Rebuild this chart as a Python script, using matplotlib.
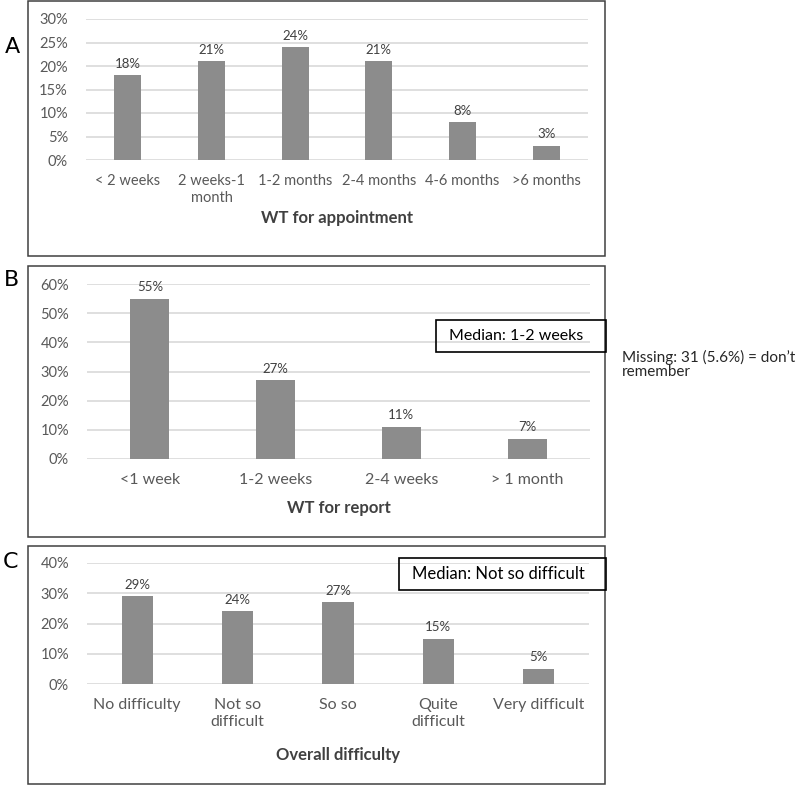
import matplotlib
matplotlib.use('Agg')
import matplotlib.pyplot as plt
from matplotlib.patches import Rectangle

plt.rcParams['font.family'] = ['Lato', 'DejaVu Sans']

# data
a_cats = ['< 2 weeks', '2 weeks-1\nmonth', '1-2 months', '2-4 months', '4-6 months', '>6 months']
a_vals = [18, 21, 24, 21, 8, 3]
b_cats = ['<1 week', '1-2 weeks', '2-4 weeks', '> 1 month']
b_vals = [55, 27, 11, 7]
c_cats = ['No difficulty', 'Not so\ndifficult', 'So so', 'Quite\ndifficult', 'Very difficult']
c_vals = [29, 24, 27, 15, 5]

W, H = 798, 787
fig = plt.figure(figsize=(W / 100, H / 100), dpi=100)

def fx(x):
    return x / W

def fy(y):
    return 1 - y / H

bar_col = '#8c8c8c'
grid_col = '#d9d9d9'
tick_col = '#595959'
frame_col = '#404040'


def panel(x0, x1, ytop, ybot, cats, vals, ymax, step, width, xlabel, xlabel_y,
          letter, letter_xy, xsize):
    ax = fig.add_axes([fx(x0), fy(ybot), fx(x1 - x0), (ybot - ytop) / H])
    pos = range(len(cats))
    ax.bar(pos, vals, width=width, color=bar_col, zorder=3)
    for p, v in zip(pos, vals):
        ax.annotate(f'{v}%', (p, v), xytext=(0, 4), textcoords='offset points',
                    ha='center', va='bottom', fontsize=9.5, color='#404040')
    ax.set_xlim(-0.5, len(cats) - 0.5)
    ax.set_ylim(0, ymax)
    ax.set_yticks(range(0, ymax + 1, step))
    ax.set_yticklabels([f'{t}%' for t in range(0, ymax + 1, step)])
    ax.set_xticks(list(pos))
    ax.set_xticklabels(cats, linespacing=1.3)
    ax.tick_params(length=0, labelsize=10.5, colors=tick_col)
    ax.tick_params(axis='y', pad=13)
    ax.tick_params(axis='x', pad=10, labelsize=xsize)
    ax.grid(axis='y', color=grid_col, linewidth=1.2, zorder=0)
    for s in ax.spines.values():
        s.set_visible(False)
    fig.text(fx((x0 + x1) / 2), fy(xlabel_y), xlabel, ha='center', va='center',
             fontsize=12, fontweight='bold', color=frame_col)
    fig.text(fx(letter_xy[0]), fy(letter_xy[1]), letter, ha='center', va='center',
             fontsize=16, color='black', family='DejaVu Sans')
    return ax


def frame(x0, y0, x1, y1, col=frame_col, lw=1.1):
    fig.patches.append(Rectangle((fx(x0), fy(y1)), fx(x1 - x0), (y1 - y0) / H,
                                 transform=fig.transFigure, fill=False,
                                 edgecolor=col, linewidth=lw, zorder=5))


# A
frame(28, 1, 605, 256)
panel(86, 588, 19, 160, a_cats, a_vals, 30, 5, 0.32, 'WT for appointment', 218,
      'A', (12, 47), 10.5)

# B
frame(28, 266, 605, 537)
panel(87, 590, 284, 459, b_cats, b_vals, 60, 10, 0.31, 'WT for report', 508,
      'B', (12, 280), 11.5)
frame(436, 320, 606, 352, col='black', lw=1.2)
fig.text(fx(516), fy(336), 'Median: 1-2 weeks', ha='center', va='center', fontsize=11.5, color='black')
fig.text(fx(622), fy(364), 'Missing: 31 (5.6%) = don\u2019t\nremember', ha='left', va='center',
         fontsize=11, color='#262626', linespacing=1.0)

# C
frame(28, 546, 605, 784)
panel(87, 589, 563, 684, c_cats, c_vals, 40, 10, 0.31, 'Overall difficulty', 755,
      'C', (10, 562), 11.5)
frame(399, 558, 606, 590, col='black', lw=1.2)
fig.text(fx(498), fy(574), 'Median: Not so difficult', ha='center', va='center', fontsize=12, color='black')

fig.savefig('out.png', dpi=100)
